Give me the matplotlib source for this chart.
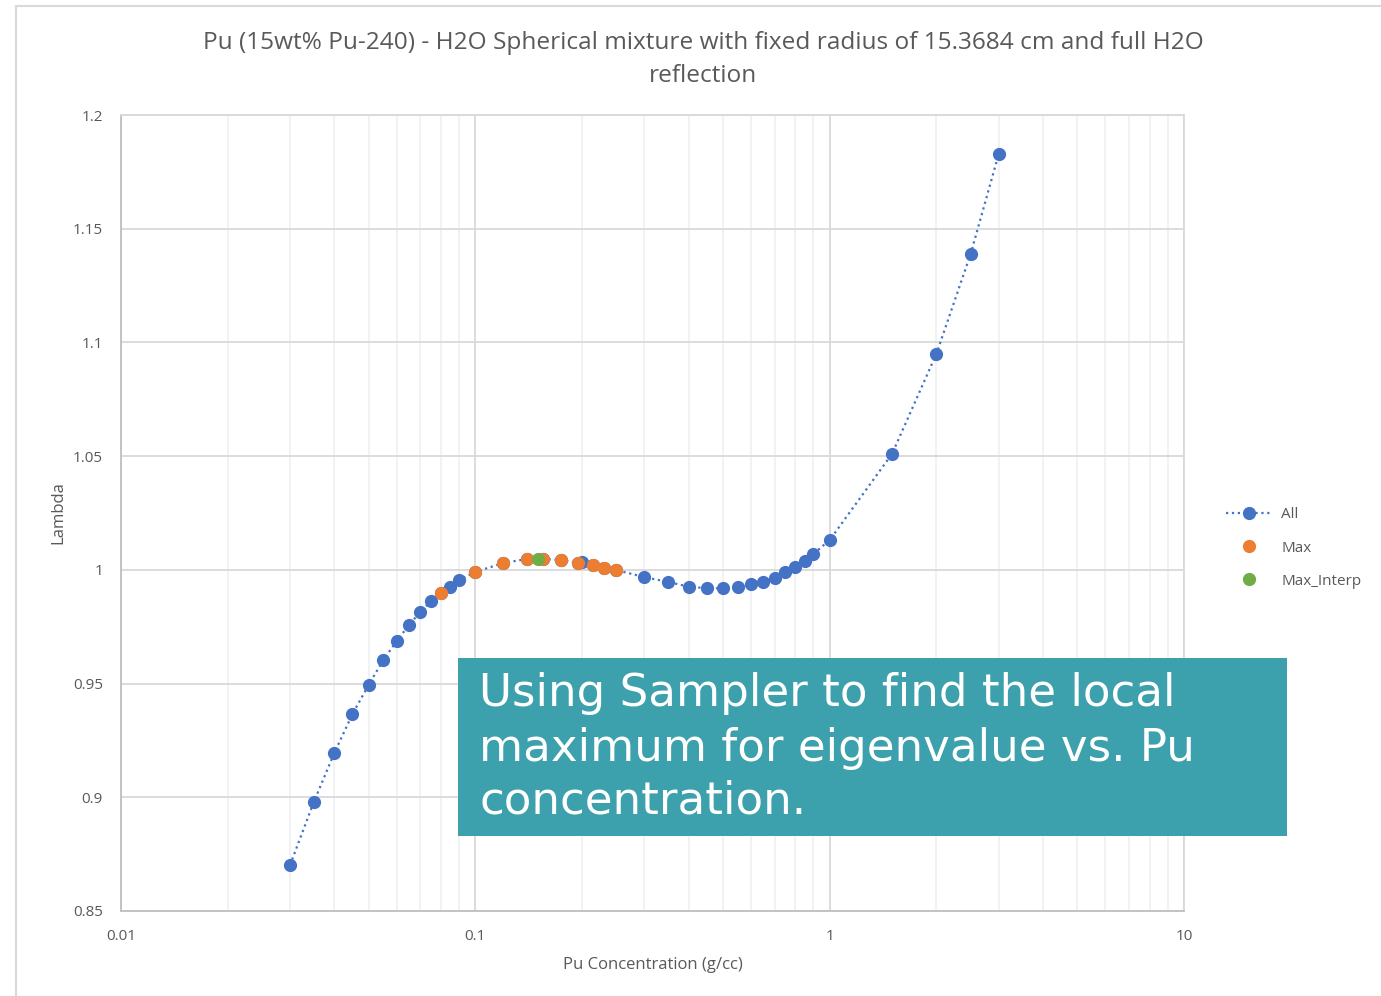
import matplotlib
matplotlib.use("Agg")
import matplotlib.pyplot as plt
from matplotlib.patches import Rectangle
from matplotlib.ticker import FixedLocator, LogLocator, NullFormatter

plt.rcParams['font.family'] = ['Open Sans', 'DejaVu Sans']

# ---- data ----
all_x = [0.03, 0.035, 0.04, 0.045, 0.05, 0.055, 0.06, 0.065, 0.07, 0.075,
         0.08, 0.085, 0.09, 0.1, 0.12, 0.14, 0.155, 0.175, 0.195, 0.2,
         0.215, 0.23, 0.25, 0.3, 0.35, 0.4, 0.45, 0.5, 0.55, 0.6,
         0.65, 0.7, 0.75, 0.8, 0.85, 0.9, 1.0, 1.5, 2.0, 2.5, 3.0]
all_y = [0.8702, 0.8979, 0.9195, 0.9366, 0.9494, 0.9604, 0.9687, 0.9758, 0.9815, 0.9863,
         0.9898, 0.9925, 0.9955, 0.9991, 1.0030, 1.0048, 1.0048, 1.0043, 1.0030, 1.0035,
         1.0021, 1.0008, 0.9999, 0.9968, 0.9947, 0.9926, 0.9919, 0.9919, 0.9923, 0.9936,
         0.9948, 0.9966, 0.9989, 1.0014, 1.0039, 1.0070, 1.0131, 1.0510, 1.0949, 1.1389, 1.1829]

max_x = [0.08, 0.1, 0.12, 0.14, 0.155, 0.175, 0.195, 0.215, 0.23, 0.25]
max_y = [0.9898, 0.9991, 1.0030, 1.0048, 1.0048, 1.0043, 1.0030, 1.0021, 1.0008, 0.9999]

interp_x = [0.15]
interp_y = [1.0049]

y_ticks = [0.85, 0.9, 0.95, 1.0, 1.05, 1.1, 1.15, 1.2]
y_tick_labels = ["0.85", "0.9", "0.95", "1", "1.05", "1.1", "1.15", "1.2"]
x_ticks = [0.01, 0.1, 1, 10]
x_tick_labels = ["0.01", "0.1", "1", "10"]

title = ("Pu (15wt% Pu-240) - H2O Spherical mixture with fixed radius of 15.3684 cm and full H2O\n"
         "reflection")
callout_lines = ["Using Sampler to find the local",
                 "maximum for eigenvalue vs. Pu",
                 "concentration."]

# ---- figure ----
W, H = 1381, 996
fig = plt.figure(figsize=(W / 100, H / 100), dpi=100)
fig.patch.set_facecolor('white')

# outer frame lines (left and top)
fig.add_artist(plt.Line2D([16 / W, 16 / W], [0, 1 - 6 / H], transform=fig.transFigure,
                          color='#d9d9d9', lw=1.5))
fig.add_artist(plt.Line2D([16 / W, 1], [1 - 6 / H, 1 - 6 / H], transform=fig.transFigure,
                          color='#d9d9d9', lw=1.5))

ax = fig.add_axes([121 / W, 1 - 911 / H, (1184 - 121) / W, (911 - 115) / H])
ax.set_xscale('log')
ax.set_xlim(0.01, 10)
ax.set_ylim(0.85, 1.2)

txt_col = '#595959'
ax.xaxis.set_major_locator(FixedLocator(x_ticks))
ax.set_xticklabels(x_tick_labels)
ax.xaxis.set_minor_locator(LogLocator(base=10, subs=range(2, 10)))
ax.xaxis.set_minor_formatter(NullFormatter())
ax.set_yticks(y_ticks)
ax.set_yticklabels(y_tick_labels)
ax.tick_params(axis='both', which='both', length=0, colors=txt_col, labelsize=11)
ax.tick_params(axis='x', pad=13)
ax.tick_params(axis='y', pad=13)

ax.grid(True, which='major', axis='both', color='#d9d9d9', lw=1.3)
ax.grid(True, which='minor', axis='x', color='#efefef', lw=1.1)
ax.set_axisbelow(True)
for s in ['top', 'right']:
    ax.spines[s].set_color('#d9d9d9')
    ax.spines[s].set_linewidth(1.3)
for s in ['left', 'bottom']:
    ax.spines[s].set_color('#bfbfbf')
    ax.spines[s].set_linewidth(1.3)

ax.plot(all_x, all_y, linestyle=':', color='#4472C4', lw=1.6, marker='o',
        markersize=8.5, markerfacecolor='#4472C4', markeredgecolor='#4472C4', label='All', zorder=3)
ax.plot(max_x, max_y, linestyle='none', marker='o', markersize=8.5, color='#ED7D31',
        label='Max', zorder=4)
ax.plot(interp_x, interp_y, linestyle='none', marker='o', markersize=8.5, color='#70AD47',
        label='Max_Interp', zorder=5)

ax.set_xlabel("Pu Concentration (g/cc)", color=txt_col, fontsize=12, labelpad=9)
ax.set_ylabel("Lambda", color=txt_col, fontsize=12, labelpad=5)

fig.text(703 / W, 1 - 59.5 / H, title, ha='center', va='center', color=txt_col,
         fontsize=17.6, linespacing=1.5)

leg = fig.legend(loc='center left', bbox_to_anchor=(1218 / W, 1 - 548 / H),
                 frameon=False, fontsize=11, labelcolor=txt_col, handlelength=3.0,
                 handletextpad=0.65, labelspacing=1.2, borderpad=0)

# callout box
fig.add_artist(Rectangle((458 / W, 1 - 836 / H), (1287 - 458) / W, (836 - 658) / H,
                         transform=fig.transFigure, facecolor='#3DA1AD', edgecolor='none',
                         zorder=10))
for line, base in zip(callout_lines, [706, 761, 813]):
    fig.text(479 / W, 1 - base / H, line, ha='left', va='baseline', color='white',
             fontsize=32.5, family=['DejaVu Sans'], zorder=11)

fig.savefig('out.png', dpi=100)
